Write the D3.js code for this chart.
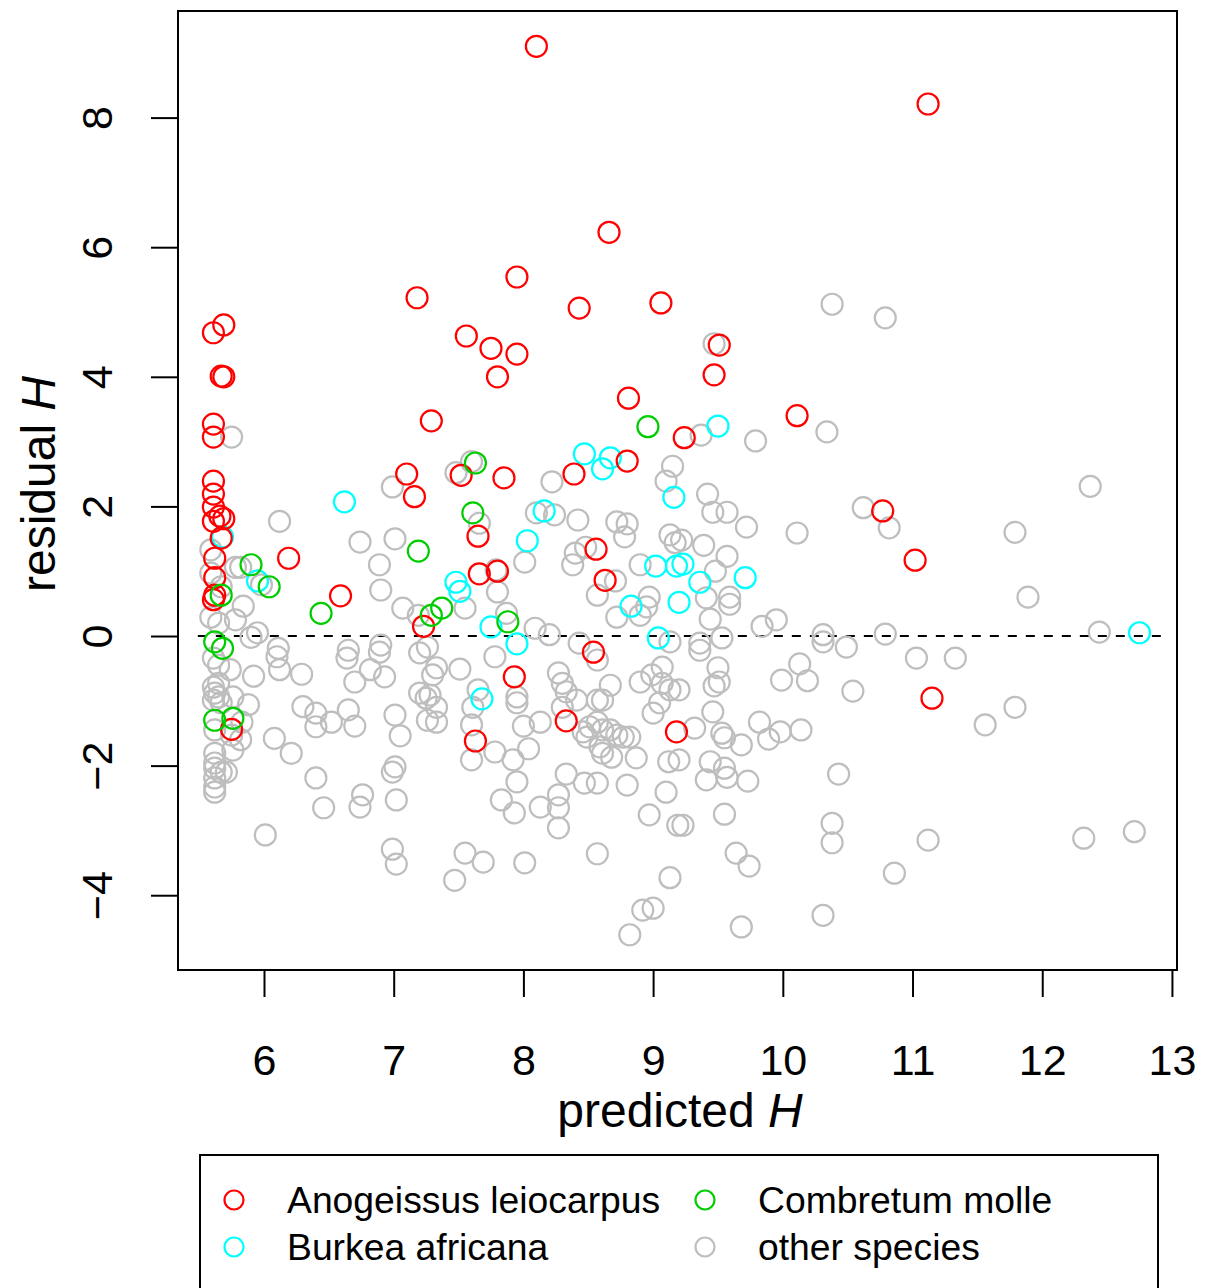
<!DOCTYPE html>
<html>
<head>
<meta charset="utf-8">
<script src="https://cdn.jsdelivr.net/npm/d3@7"></script>
<style>
body { margin: 0; background: #fff; }
svg text { font-family: "Liberation Sans", Arial, Helvetica, sans-serif; fill: #000; }
</style>
</head>
<body>
<script>
// species names in legend order (R fills the 2 columns top-down)
var species = ["Anogeissus leiocarpus", "Burkea africana", "Combretum molle", "other species"];
var speciesColors = ["#FF0000", "#00FFFF", "#00CD00", "#BEBEBE"];
var xTicks = [6, 7, 8, 9, 10, 11, 12, 13];
var yTicks = [-4, -2, 0, 2, 4, 6, 8];

// Anogeissus leiocarpus
var anoX = [8.10, 11.12, 8.66, 7.95, 7.18, 9.06, 8.43, 5.69, 5.61, 7.56, 7.75, 7.95, 9.51, 5.67, 5.69, 7.80, 9.47, 8.81, 7.29, 5.61,
  5.61, 10.11, 9.24, 8.80, 8.39, 7.10, 7.85, 7.52, 7.16, 5.61, 5.61, 5.61, 5.66, 5.61, 5.69, 5.67, 10.77, 6.19, 7.65, 8.56,
  11.02, 8.63, 7.80, 7.66, 6.59, 7.23, 5.62, 5.62, 5.62, 5.61, 8.54, 7.93, 8.33, 11.15, 9.18, 7.63, 5.75];
var anoY = [9.10, 8.21, 6.23, 5.54, 5.22, 5.14, 5.06, 4.80, 4.68, 4.63, 4.44, 4.35, 4.49, 4.01, 4.00, 4.00, 4.03, 3.67, 3.32, 3.27,
  3.07, 3.40, 3.06, 2.70, 2.50, 2.50, 2.44, 2.48, 2.15, 2.39, 2.19, 1.99, 1.85, 1.77, 1.81, 1.51, 1.93, 1.20, 1.54, 1.34,
  1.17, 0.86, 1.00, 0.96, 0.62, 0.15, 1.20, 0.90, 0.63, 0.56, -0.25, -0.63, -1.31, -0.96, -1.48, -1.62, -1.44];

// Burkea africana
var burX = [6.62, 8.47, 8.61, 8.67, 9.50, 8.16, 9.16, 8.03, 5.68, 5.95, 7.48, 7.51, 9.71, 9.36, 9.02, 9.18, 9.23, 8.83, 7.75, 7.95,
  9.04, 9.20, 7.68, 12.75];
var burY = [2.07, 2.81, 2.58, 2.75, 3.24, 1.93, 2.14, 1.47, 1.53, 0.85, 0.83, 0.69, 0.90, 0.83, 1.08, 1.08, 1.11, 0.46, 0.14, -0.12,
  -0.03, 0.52, -0.97, 0.05];

// Combretum molle
var comX = [8.96, 7.63, 7.61, 7.19, 5.90, 6.04, 5.67, 6.44, 7.37, 7.29, 7.88, 5.62, 5.68, 5.62, 5.76];
var comY = [3.23, 2.67, 1.90, 1.31, 1.10, 0.76, 0.63, 0.35, 0.43, 0.32, 0.22, -0.09, -0.19, -1.30, -1.27];

// other species
var othX = [5.75, 10.38, 10.79, 9.47, 9.37, 9.79, 10.34, 7.48, 6.99, 8.22, 9.10, 9.15, 7.60, 12.37, 9.42, 9.46, 9.57, 9.72, 10.62, 10.82,
  10.11, 11.79, 11.89, 6.12, 6.74, 7.01, 6.89, 6.90, 7.07, 7.19, 5.84, 5.78, 5.59, 5.78, 5.82, 5.98, 5.59, 5.59, 5.65, 5.95,
  5.90, 6.11, 6.65, 6.90, 7.26, 5.67, 8.10, 8.24, 8.42, 8.72, 8.80, 8.78, 9.13, 9.17, 7.66, 8.01, 8.40, 8.48, 8.38, 8.71,
  8.57, 8.90, 8.97, 8.95, 8.90, 8.72, 7.80, 7.55, 7.87, 7.79, 8.09, 8.20, 8.43, 9.13, 9.22, 9.39, 9.57, 9.48, 9.41, 9.59,
  9.59, 9.44, 9.84, 9.95, 10.31, 10.31, 10.49, 10.79, 9.36, 9.53, 12.44,
  7.51, 7.78, 7.33, 7.30, 7.33, 7.33, 7.28, 7.65, 7.61, 7.60, 7.95, 7.95, 8.00, 8.13, 7.78, 7.60, 7.92, 8.04, 7.95, 7.83,
  7.93, 8.33, 8.47, 8.57, 8.80, 8.27, 8.13, 8.27, 8.27, 7.55, 7.69, 7.47, 8.01, 8.57, 9.13, 8.92, 9.00, 8.82, 8.97, 9.10,
  9.12, 9.19, 8.27, 8.30, 8.33, 8.41, 8.30, 8.46, 8.57, 8.61, 8.67, 8.90, 8.99, 9.07, 9.07, 9.13, 9.00, 9.05, 8.57, 8.61,
  8.67, 8.72, 8.77, 8.82, 8.87, 8.59, 8.61, 8.68, 8.49, 8.51, 8.57, 9.36, 9.50, 9.51, 9.47, 9.99, 10.13, 10.19, 10.54, 11.03,
  9.20, 9.46, 9.32, 9.53, 9.55, 9.68, 9.82, 9.89, 9.98, 10.14, 9.20, 9.44, 9.55, 9.41, 9.57, 9.73, 10.43, 9.55, 9.23, 10.38,
  10.38, 9.64, 9.74, 10.86, 10.31, 9.68, 11.12, 11.33, 11.79, 11.56, 12.32, 12.71,
  5.61, 5.65, 5.74, 5.92, 6.10, 6.12, 6.29, 6.64, 6.70, 6.82, 6.89, 6.93, 7.20, 7.20, 7.25, 7.26, 5.61, 5.65, 5.62, 5.65,
  5.61, 5.67, 5.76, 5.88, 5.62, 5.83, 5.82, 5.75, 5.76, 5.62, 5.62, 5.62, 5.67, 5.71, 5.62, 5.62, 5.62, 6.08, 6.21, 6.30,
  6.40, 6.40, 6.52, 6.65, 6.70, 7.01, 7.05, 6.40, 6.46, 6.76, 6.74, 7.01, 6.99, 7.02, 6.01, 6.99, 7.02];
var othY = [3.07, 5.12, 4.91, 4.51, 3.10, 3.01, 3.15, 2.52, 2.30, 2.38, 2.39, 2.62, 2.69, 2.31, 2.19, 1.91, 1.91, 1.68, 1.98, 1.67,
  1.59, 1.60, 0.60, 1.77, 1.45, 1.50, 1.10, 0.71, 0.43, 0.32, 0.46, 0.25, 1.33, 1.06, 1.06, 0.79, 0.97, 0.29, 0.20, 0.05,
  -0.02, -0.19, -0.22, -0.14, -0.17, 0.76, 1.90, 1.87, 1.79, 1.76, 1.73, 1.53, 1.56, 1.44, 1.74, 1.14, 1.28, 1.37, 1.10, 0.85,
  0.63, 1.10, 0.60, 0.45, 0.32, 0.29, 0.68, 0.43, 0.35, 1.02, 0.12, 0.02, -0.11, -0.09, 1.48, 1.40, 1.23, 1.00, 0.59, 0.60,
  0.49, 0.26, 0.15, 0.25, 0.02, -0.09, -0.17, 0.03, -0.11, -0.03, 0.06,
  -0.51, -0.32, -0.49, -0.60, -1.10, -1.33, -0.91, -0.83, -1.10, -1.37, -0.94, -1.03, -1.39, -1.33, -1.79, -1.91, -1.91, -1.74, -2.25, -2.53,
  -2.73, -2.13, -2.27, -2.27, -2.30, -2.45, -2.64, -2.65, -2.96, -3.35, -3.49, -3.77, -3.50, -3.36, -3.73, -4.23, -4.20, -4.61, -2.76, -2.41,
  -1.94, -2.92, -0.57, -0.73, -0.86, -0.99, -1.10, -1.48, -0.99, -0.99, -0.76, -0.71, -0.60, -0.48, -0.73, -0.83, -1.19, -1.03, -1.33, -1.45,
  -1.45, -1.53, -1.56, -1.56, -1.88, -1.71, -1.81, -1.87, -1.56, -1.40, -0.37, -0.22, -0.49, -0.71, -0.77, -0.68, -0.43, -0.69, -0.85, -0.34,
  -0.83, -1.17, -1.42, -1.50, -1.57, -1.68, -1.33, -1.59, -1.48, -1.45, -1.91, -1.94, -2.04, -2.22, -2.18, -2.24, -2.13, -2.75, -2.92, -2.89,
  -3.19, -3.35, -3.55, -3.66, -4.31, -4.49, -3.15, -0.34, -1.10, -1.37, -3.12, -3.02,
  -0.34, -0.45, -0.52, -0.62, -0.32, -0.52, -0.59, -0.34, -0.71, -0.52, -0.25, -0.63, -0.26, -0.88, -0.96, -1.30, -0.79, -0.73, -0.88, -0.94,
  -0.99, -1.03, -0.94, -1.06, -1.45, -1.33, -1.60, -1.53, -1.76, -1.81, -1.96, -2.04, -2.10, -2.10, -2.19, -2.33, -2.41, -1.58, -1.81, -1.09,
  -1.19, -1.40, -1.33, -1.14, -1.39, -1.22, -1.54, -2.19, -2.65, -2.45, -2.64, -2.02, -2.10, -2.53, -3.07, -3.29, -3.52];

// dashed zero line runs over the range of the data
var zeroLine = [[5.49, 0], [12.96, 0]];

var width = 1215, height = 1288;
var margin = {top: 11, right: 38, bottom: 318, left: 178};
var plotW = width - margin.left - margin.right,
    plotH = height - margin.top - margin.bottom;

var svg = d3.select("body").append("svg")
  .attr("width", width)
  .attr("height", height);

var g = svg.append("g")
  .attr("transform", "translate(" + margin.left + "," + margin.top + ")");

var x = d3.scaleLinear().domain([5.337, 13.039]).range([0, plotW]);
var y = d3.scaleLinear().domain([-5.154, 9.645]).range([plotH, 0]);

// zero line
g.append("path")
  .datum(zeroLine)
  .attr("d", d3.line().x(function(d) { return x(d[0]); }).y(function(d) { return y(d[1]); }))
  .attr("fill", "none")
  .attr("stroke", "#000")
  .attr("stroke-width", 2.2)
  .attr("stroke-dasharray", "9,9");

// points, grey first so the coloured species sit on top
var series = [
  {xs: othX, ys: othY, col: speciesColors[3]},
  {xs: burX, ys: burY, col: speciesColors[1]},
  {xs: anoX, ys: anoY, col: speciesColors[0]},
  {xs: comX, ys: comY, col: speciesColors[2]}
];

series.forEach(function(s) {
  g.append("g")
    .selectAll("circle")
    .data(d3.range(s.xs.length))
    .enter().append("circle")
      .attr("cx", function(i) { return x(s.xs[i]); })
      .attr("cy", function(i) { return y(s.ys[i]); })
      .attr("r", 10.5)
      .attr("fill", "none")
      .attr("stroke", s.col)
      .attr("stroke-width", 2.2);
});

// box
g.append("rect")
  .attr("x", 0).attr("y", 0)
  .attr("width", plotW).attr("height", plotH)
  .attr("fill", "none")
  .attr("stroke", "#000")
  .attr("stroke-width", 2);

// x axis
var xAxis = g.append("g")
  .attr("transform", "translate(0," + plotH + ")")
  .call(d3.axisBottom(x).tickValues(xTicks).tickSize(27).tickPadding(47).tickFormat(d3.format("d")));
xAxis.select(".domain").remove();
xAxis.selectAll("line").attr("stroke-width", 2);
xAxis.selectAll("text").attr("font-size", 43).attr("font-family", "Liberation Sans, Arial, sans-serif");

// y axis, labels turned like R's default
var yAxis = g.append("g")
  .call(d3.axisLeft(y).tickValues(yTicks).tickSize(27).tickFormat(function(d) { return d < 0 ? "\u2212" + Math.abs(d) : d; }));
yAxis.select(".domain").remove();
yAxis.selectAll("line").attr("stroke-width", 2);
yAxis.selectAll("text")
  .attr("x", 0).attr("y", 0).attr("dy", 0)
  .attr("text-anchor", "middle")
  .attr("transform", "translate(-66,0) rotate(-90)")
  .attr("font-size", 43)
  .attr("font-family", "Liberation Sans, Arial, sans-serif");

// axis titles
var xt = svg.append("text")
  .attr("x", 680)
  .attr("y", 1127)
  .attr("text-anchor", "middle")
  .attr("font-size", 48);
xt.append("tspan").text("predicted ");
xt.append("tspan").attr("font-style", "italic").text("H");

var yt = svg.append("text")
  .attr("transform", "translate(55,484) rotate(-90)")
  .attr("text-anchor", "middle")
  .attr("font-size", 48);
yt.append("tspan").text("residual ");
yt.append("tspan").attr("font-style", "italic").text("H");

// legend
var legend = svg.append("g").attr("class", "legend");
legend.append("rect")
  .attr("x", 200).attr("y", 1155)
  .attr("width", 958).attr("height", 200)
  .attr("fill", "none")
  .attr("stroke", "#000")
  .attr("stroke-width", 2);

var legX = [234, 234, 705, 705], legY = [1200, 1247, 1200, 1247];
var items = legend.selectAll(".item")
  .data(species)
  .enter().append("g")
    .attr("class", "item")
    .attr("transform", function(d, i) { return "translate(" + legX[i] + "," + legY[i] + ")"; });

items.append("circle")
  .attr("r", 9.5)
  .attr("fill", "none")
  .attr("stroke", function(d, i) { return speciesColors[i]; })
  .attr("stroke-width", 2.2);

items.append("text")
  .attr("x", 53)
  .attr("dy", "0.35em")
  .attr("font-size", 37.3)
  .text(function(d) { return d; });
</script>
</body>
</html>
